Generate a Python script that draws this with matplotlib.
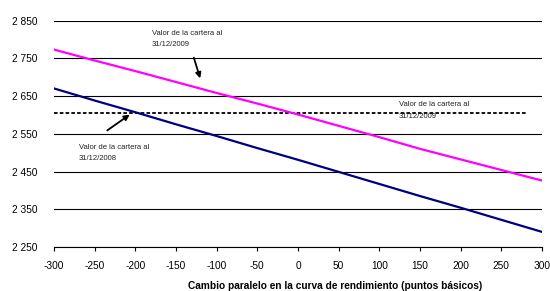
import matplotlib
matplotlib.use("Agg")
import matplotlib.pyplot as plt

# Data
shift_bp = [-300, -250, -200, -150, -100, -50, 0, 50, 100, 150, 200, 250, 300]
valor_2009 = [2773, 2744, 2716, 2687, 2658, 2630, 2601, 2571, 2541, 2510, 2482, 2454, 2426]
valor_2008 = [2670, 2638, 2607, 2575, 2544, 2512, 2481, 2449, 2417, 2385, 2354, 2322, 2290]
ref_x = [-300, 280]
ref_val = [2604, 2604]
y_ticks = [2250, 2350, 2450, 2550, 2650, 2750, 2850]
y_labels = ["2 250", "2 350", "2 450", "2 550", "2 650", "2 750", "2 850"]
x_ticks = [-300, -250, -200, -150, -100, -50, 0, 50, 100, 150, 200, 250, 300]
x_labels = [str(v) for v in x_ticks]
xlabel = "Cambio paralelo en la curva de rendimiento (puntos básicos)"
ann_text_2009 = "Valor de la cartera al\n31/12/2009"
ann_text_2008 = "Valor de la cartera al\n31/12/2008"

plt.rcParams['font.family'] = ['Liberation Sans', 'DejaVu Sans']

W, H = 550, 291
fig = plt.figure(figsize=(W / 100, H / 100), dpi=100)
ax = fig.add_axes([54 / W, 1 - 247 / H, (542 - 54) / W, (247 - 20.5) / H])

for yv in y_ticks:
    ax.axhline(yv, color='black', lw=0.8, zorder=1)

ax.plot(shift_bp, valor_2009, color='#FF00FF', lw=1.6, zorder=3)
ax.plot(shift_bp, valor_2008, color='#000080', lw=1.6, zorder=3)
ax.plot(ref_x, ref_val, color='black', lw=1.3, ls=(0, (2, 1.2)), zorder=2)

ax.set_xlim(-300, 300)
ax.set_ylim(2250, 2850)
ax.set_yticks(y_ticks)
ax.set_yticklabels(y_labels, fontsize=7.3)
ax.set_xticks(x_ticks)
ax.set_xticklabels(x_labels, fontsize=7.3)
ax.tick_params(axis='y', length=0, pad=12)
ax.tick_params(axis='x', length=3, width=0.8, pad=7, direction='out')

for s in ['top', 'right', 'left']:
    ax.spines[s].set_visible(False)
ax.spines['bottom'].set_linewidth(0.8)

fig.text(335 / W, 1 - 286 / H, xlabel, fontsize=7.3, fontweight='bold',
         ha='center', va='center')

def px2data(px, py):
    x = -300 + (px - 54) / (542 - 54) * 600
    y = 2850 - (py - 20.5) / (247 - 20.5) * 600
    return x, y

arrowprops = dict(arrowstyle='-|>', color='black', lw=1.3, mutation_scale=8)

# Top annotation
ax.annotate("", xy=px2data(201, 81), xytext=px2data(193, 55),
            arrowprops=arrowprops, annotation_clip=False)
tx, ty = px2data(152, 39)
ax.text(tx, ty, ann_text_2009, fontsize=5.5, ha='left', va='center',
        linespacing=1.9, color='#222222')

# 2008 annotation
ax.annotate("", xy=px2data(132, 113), xytext=px2data(105, 132),
            arrowprops=arrowprops, annotation_clip=False)
tx, ty = px2data(79, 153)
ax.text(tx, ty, ann_text_2008, fontsize=5.5, ha='left', va='center',
        linespacing=1.9, color='#222222')

# Right annotation
tx, ty = px2data(399, 110.5)
ax.text(tx, ty, ann_text_2009, fontsize=5.5, ha='left', va='center',
        linespacing=1.9, color='#222222', zorder=4)

fig.savefig("out.png", dpi=100)
